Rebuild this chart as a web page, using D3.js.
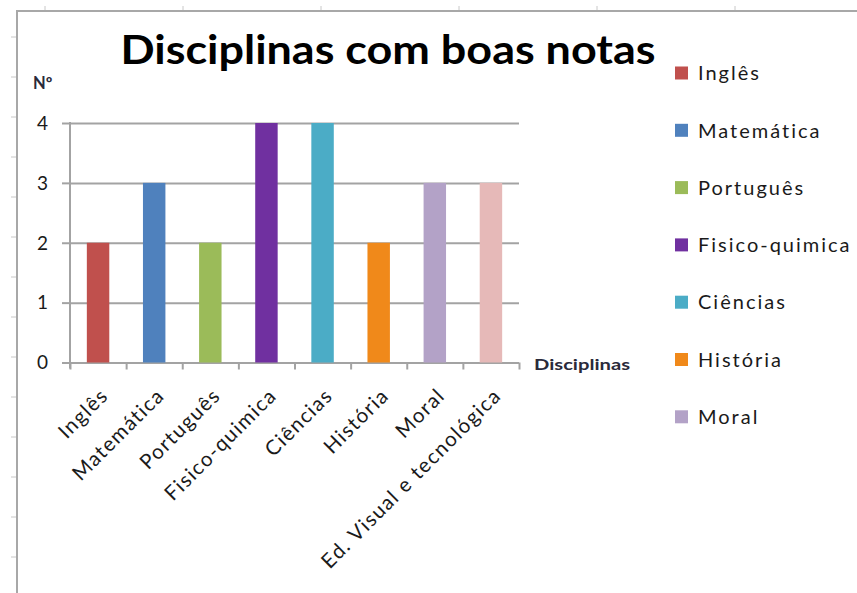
<!DOCTYPE html>
<html>
<head>
<meta charset="utf-8">
<script src="https://cdn.jsdelivr.net/npm/d3@7"></script>
<style>
  html, body { margin: 0; padding: 0; background: #fff; }
  svg { display: block; font-family: Lato, "Open Sans", sans-serif; }
</style>
</head>
<body>
<svg id="chart" width="857" height="593"></svg>
<script>
// Subjects with good marks
const categories = ["Inglês", "Matemática", "Português", "Fisico-quimica", "Ciências", "História", "Moral", "Ed. Visual e tecnológica"];
const values = [2, 3, 2, 4, 4, 2, 3, 3];
const colors = ["#C0504D", "#4F81BD", "#9BBB59", "#7030A0", "#4BACC6", "#F0891A", "#B3A2C7", "#E6B9B8"];
const yTicks = [0, 1, 2, 3, 4];
const legendItems = categories.slice(0, 7); // the legend box only has room for seven entries
const titleText = "Disciplinas com boas notas";
const yAxisTitle = "Nº";
const xAxisTitle = "Disciplinas";

(function draw() {
  const svg = d3.select("#chart");
  const W = 857, H = 593;
  const grey = "#A3A3A3";

  // sheet-like frame: top and left edges with small cell marks outside
  const frame = svg.append("g");
  frame.append("path")
    .attr("d", `M17,${H} L17,11 L${W},11`)
    .attr("fill", "none").attr("stroke", "#A8A8A8").attr("stroke-width", 2);
  frame.selectAll("line.colmark").data(d3.range(45, W, 138)).join("line")
    .attr("x1", d => d).attr("x2", d => d).attr("y1", 6).attr("y2", 10)
    .attr("stroke", "#C8C8C8").attr("stroke-width", 1);
  frame.selectAll("line.rowmark").data(d3.range(37, H, 40)).join("line")
    .attr("x1", 11).attr("x2", 16).attr("y1", d => d).attr("y2", d => d)
    .attr("stroke", "#C8C8C8").attr("stroke-width", 1);

  // plot area
  const pLeft = 70, pRight = 519, pTop = 123, pBottom = 362.5;
  const x = d3.scaleBand().domain(categories).range([pLeft, pRight]).paddingInner(0.6).paddingOuter(0.3);
  const xSlots = d3.scaleLinear().domain([0, categories.length]).range([pLeft, pRight]);
  const y = d3.scaleLinear().domain([0, 4]).range([pBottom, pTop]);

  // horizontal gridlines with short outward ticks
  const grid = svg.append("g").attr("transform", `translate(${pLeft},0)`)
    .call(d3.axisLeft(y).tickValues(yTicks).tickSize(-(pRight - pLeft)).tickFormat(""));
  grid.select(".domain").remove();
  grid.selectAll(".tick line").attr("stroke", grey).attr("stroke-width", 2);
  grid.selectAll(".tick").append("line")
    .attr("x1", -8).attr("x2", 0).attr("stroke", grey).attr("stroke-width", 2);

  // vertical value axis line
  svg.append("line")
    .attr("x1", pLeft).attr("x2", pLeft).attr("y1", y(4) - 1).attr("y2", pBottom + 6)
    .attr("stroke", grey).attr("stroke-width", 2);

  // y tick labels
  svg.append("g").selectAll("text").data(yTicks).join("text")
    .attr("x", 48).attr("y", d => y(d)).attr("dy", "0.36em")
    .attr("text-anchor", "end").attr("font-size", 19).attr("fill", "#1a1a1a")
    .text(d => d);

  // category tick marks at slot boundaries
  const xt = svg.append("g").attr("transform", `translate(0,${pBottom})`)
    .call(d3.axisBottom(xSlots).ticks(categories.length).tickSize(7).tickFormat(""));
  xt.select(".domain").remove();
  xt.selectAll(".tick line").attr("stroke", grey).attr("stroke-width", 2);

  // bars
  svg.append("g").selectAll("rect").data(values).join("rect")
    .attr("x", (d, i) => x(categories[i]))
    .attr("width", x.bandwidth())
    .attr("y", d => y(d))
    .attr("height", d => y(0) - y(d))
    .attr("fill", (d, i) => colors[i]);

  // rotated category labels
  svg.append("g").selectAll("text").data(categories).join("text")
    .attr("transform", d => `translate(${x(d) + x.bandwidth() / 2 + 1},${pBottom + 24}) rotate(-45)`)
    .attr("text-anchor", "end").attr("dy", "0.72em")
    .attr("font-size", 20.5).attr("letter-spacing", 1.4).attr("fill", "#1a1a1a")
    .text(d => d);

  // title
  svg.append("text")
    .attr("x", 388).attr("y", 64).attr("text-anchor", "middle")
    .attr("font-size", 40).attr("font-weight", 700).attr("fill", "#000")
    .attr("textLength", 535).attr("lengthAdjust", "spacingAndGlyphs")
    .text(titleText);

  // axis titles
  svg.append("text").attr("x", 33).attr("y", 89)
    .attr("font-size", 16.5).attr("font-weight", 700).attr("fill", "#2a2a3a")
    .text(yAxisTitle);
  svg.append("text").attr("x", 534).attr("y", 370)
    .attr("font-size", 15.5).attr("font-weight", 700).attr("fill", "#2a2a3a")
    .attr("textLength", 96).attr("lengthAdjust", "spacingAndGlyphs")
    .text(xAxisTitle);

  // legend
  const legend = svg.append("g").attr("transform", "translate(675,73)");
  const li = legend.selectAll("g").data(legendItems).join("g")
    .attr("transform", (d, i) => `translate(0,${i * 57.3})`);
  li.append("rect").attr("x", 0).attr("y", -6.5).attr("width", 13).attr("height", 13)
    .attr("fill", (d, i) => colors[i]);
  li.append("text").attr("x", 23).attr("y", 0).attr("dy", "0.36em")
    .attr("font-size", 20).attr("letter-spacing", 2.0).attr("fill", "#1a1a1a")
    .text(d => d);
})();
</script>
</body>
</html>
